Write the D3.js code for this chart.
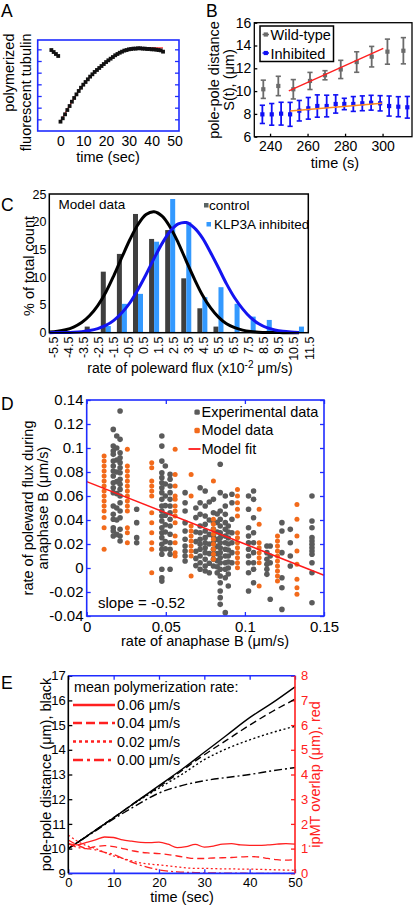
<!DOCTYPE html>
<html><head><meta charset="utf-8">
<script src="https://cdn.jsdelivr.net/npm/d3@7"></script>
<style>body{margin:0;background:#fff;}svg{display:block;}</style>
</head><body>
<script>
// ---------------- DATA ----------------
// Panel A
const aPreTime = [-4, -3, -2, -1];
const aPreVal = [6.94, 6.77, 6.60, 6.43];
const aTime = [0,1,2,3,4,5,6,7,8,9,10,11,12,13,14,15,16,17,18,19,20,21,22,23,24,25,26,27,28,29,30,31,32,33,34,35,36,37,38,39,40,41,42,43,44,45];
const aVal = [0.80,1.09,1.43,1.80,2.14,2.51,2.83,3.14,3.43,3.71,3.97,4.20,4.43,4.66,4.86,5.06,5.23,5.40,5.57,5.74,5.91,6.06,6.20,6.34,6.49,6.60,6.71,6.80,6.89,6.94,7.00,7.03,7.06,7.06,7.09,7.09,7.06,7.06,7.03,7.03,7.00,7.00,6.97,6.94,6.91,6.80];
const aFitTime = [0, 5, 10, 15, 20, 25, 30, 35, 40, 45];
const aFitVal = [0.82, 2.50, 3.97, 5.06, 5.91, 6.60, 7.00, 7.10, 7.12, 7.13];
const aXTicks = [0, 10, 20, 30, 40, 50];
const aYTicks = [1, 2, 3, 4, 5, 6, 7];

// Panel B
const bWildTime = [236.4, 244.4, 252.4, 261.3, 269.3, 277.7, 286.2, 294.2, 302.6, 311.1];
const bWildVal = [10.16, 10.45, 10.16, 10.89, 11.39, 11.90, 12.55, 13.02, 13.46, 13.54];
const bWildErr = [0.80, 0.85, 0.85, 0.75, 0.40, 0.80, 0.90, 0.90, 1.10, 1.15];
const bInhTime = [235.9, 240.9, 245.9, 250.7, 255.6, 260.4, 265.2, 270.2, 275.0, 279.6, 284.4, 289.2, 293.9, 298.7, 303.5, 308.4, 313.2];
const bInhVal = [7.96, 7.96, 8.02, 7.96, 8.28, 8.49, 8.69, 8.69, 8.87, 8.87, 8.87, 8.93, 8.98, 8.93, 8.69, 8.63, 8.58];
const bInhErr = [0.80, 0.95, 1.00, 1.05, 0.90, 0.95, 0.98, 0.95, 0.80, 0.50, 0.65, 0.65, 0.65, 0.67, 0.88, 0.88, 0.95];
const bWildFitTime = [250.0, 300.4];
const bWildFitVal = [10.02, 13.74];
const bInhFitTime = [250.7, 299.6];
const bInhFitVal = [8.25, 8.93];
const bXTicks = [240, 260, 280, 300];
const bYTicks = [6, 8, 10, 12, 14, 16];

// Panel C
const cBins = [-5,-4,-3,-2,-1,0,1,2,3,4,5,6,7,8,9,10];
const cControl = [0.3, 0, 1.1, 11.0, 14.2, 21.4, 16.9, 18.5, 9.8, 4.4, 1.1, 0, 0, 0, 0.3, 0];
const cInhibited = [0, 0, 0, 1.2, 5.2, 7.0, 16.4, 24.1, 19.9, 6.4, 8.2, 5.2, 2.9, 2.3, 0, 1.1];
const cControlCurveX = [-5.5,-5,-4.5,-4,-3.5,-3,-2.5,-2,-1.5,-1,-0.5,0,0.5,1,1.5,2,2.5,3,3.5,4,4.5,5,5.5,6,6.5,7,7.5,8,9,10];
const cControlCurveY = [0.12,0.26,0.53,1.02,1.83,3.1,4.9,7.3,10.3,13.6,16.8,19.5,21.3,21.8,21.0,19.0,16.2,12.9,9.7,6.8,4.5,2.8,1.6,0.9,0.46,0.22,0.1,0.04,0.01,0];
const cInhCurveX = [-5.5,-5,-4.5,-4,-3.5,-3,-2.5,-2,-1.5,-1,-0.5,0,0.5,1,1.5,2,2.5,3,3.5,4,4.5,5,5.5,6,6.5,7,7.5,8,8.5,9,9.5,10];
const cInhCurveY = [0.01,0.02,0.04,0.09,0.19,0.38,0.73,1.31,2.23,3.6,5.4,7.8,10.5,13.4,16.1,18.3,19.6,19.85,18.9,17.1,14.5,11.7,8.8,6.3,4.3,2.7,1.6,0.9,0.5,0.25,0.12,0.05];
const cTickLabels = ["-5.5","-4.5","-3.5","-2.5","-1.5","-0.5","0.5","1.5","2.5","3.5","4.5","5.5","6.5","7.5","8.5","9.5","10.5","11.5"];
const cYTicks = [0, 5, 10, 15, 20, 25];

// Panel D
const dExperimental = [
  {x: 0.0168, y: [0.1155,0.1016,0.0975,0.0947,0.0891,0.085,0.0808,0.0767,0.0711,0.0669,0.0628,0.0517,0.0447,0.0406,0.0336,0.0308,0.0267]},
  {x: 0.0190, y: [0.110,0.100,0.090,0.080,0.072,0.062,0.050,0.040,0.028]},
  {x: 0.0211, y: [0.1308,0.1072,0.0961,0.0919,0.0878,0.0836,0.0794,0.0739,0.0697,0.0655,0.06,0.0544,0.0475,0.0419,0.0322,0.0267,0.0225]},
  {x: 0.0316, y: [0.0489,0.0378,0.0253,0.0211]},
  {x: 0.0475, y: [0.11,0.1016,0.0891,0.0794,0.0753,0.0711,0.0669,0.0628,0.0572,0.0517,0.0475,0.0433,0.0392,0.0336,0.0294,0.0253,0.0197,0.0156,0.0114,-0.0011,-0.0081,-0.0109]},
  {x: 0.0497, y: [0.085,0.070,0.060,0.052,0.044,0.036,0.030,0.022,0.016]},
  {x: 0.0527, y: [0.078,0.0739,0.0683,0.0628,0.0572,0.0517,0.0461,0.0406,0.035,0.0281,0.0211,0.0156,0.0114,-0.0011]},
  {x: 0.0622, y: [0.0628,0.0544,0.0475,0.0378,0.0308,0.0239,0.0183,0.0142,0.01,0.0058]},
  {x: 0.0690, y: [0.050,0.042,0.030,0.022,0.014,0.008,0.002]},
  {x: 0.0717, y: [0.0669,0.0544,0.0447,0.035,0.0294,0.0239,0.0197,0.0156,0.01,0.0044,-0.0011]},
  {x: 0.0749, y: [0.0642,0.0517,0.0433,0.0364,0.0308,0.0253,0.0211,0.0169,0.0128,0.0072,0.0017,-0.0025]},
  {x: 0.0775, y: [0.055,0.040,0.028,0.020,0.012,0.004,-0.004]},
  {x: 0.0801, y: [0.0572,0.0461,0.0378,0.0322,0.0267,0.0211,0.0156,0.0114,0.0072,0.0017]},
  {x: 0.0825, y: [0.045,0.038,0.030,0.024,0.018,0.012,0.006,0.001,-0.004]},
  {x: 0.0844, y: [0.0864,0.0628,0.0475,0.0406,0.035,0.0294,0.0253,0.0211,0.0169,0.0128,0.0086,0.0044,-0.0011,-0.0067,-0.0123,-0.0192,-0.0247,-0.0303]},
  {x: 0.0876, y: [0.06,0.0517,0.0447,0.0378,0.0322,0.0267,0.0211,0.0156,0.01,0.0044,-0.0011,-0.0081,-0.0372]},
  {x: 0.0895, y: [0.035,0.030,0.025,0.020,0.015,0.010,0.005,0.000,-0.005,-0.015]},
  {x: 0.0918, y: [0.0614,0.0544,0.0406,0.0294,0.0211,0.0128,0.0044]},
  {x: 0.1023, y: [0.06,0.0489,0.0336,0.0267,0.0211,0.0156,0.01,0.0044,-0.0039,-0.0192]},
  {x: 0.1055, y: [0.0642,0.0572,0.0419,0.0294,0.0211,0.0128,0.0044,-0.0011,-0.0123]},
  {x: 0.1139, y: [0.0183,0.0128,0.0072,0.0031,-0.0011,-0.0053]},
  {x: 0.1160, y: [0.0183,0.01,0.0044,-0.0261]},
  {x: 0.1234, y: [0.0378,0.0308,0.0128,-0.0081,-0.0164,-0.0345]},
  {x: 0.1287, y: [0.0322,0.0211,0.01,0.0017]},
  {x: 0.1424, y: [0.06,0.0392,0.0336,0.0253,0.0225,0.0197,0.0169,0.0142,0.0114,0.0044,-0.0039,-0.0289]}
];
const dModel = [
  {x: 0.0110, y: [0.0933,0.0892,0.085,0.0808,0.0767,0.0725,0.0683,0.0642,0.06,0.0558,0.0517,0.0475,0.042,0.0336,0.0156]},
  {x: 0.0257, y: [0.0989,0.085,0.0808,0.0767,0.0725,0.0683,0.0642,0.06,0.0558,0.0517,0.0475,0.0336,0.0294,0.0211]},
  {x: 0.0411, y: [0.0878,0.0836,0.0725,0.0683,0.0642,0.06,0.0461,0.0378,0.0294,0.0211,0.0156,-0.004]},
  {x: 0.0559, y: [0.0989,0.078,0.0683,0.06,0.0572,0.0517,0.0475,0.0433,0.0378,0.0267,0.0211,0.0128,0.01]},
  {x: 0.0660, y: [0.078,0.06,0.035,0.0308,0.0267,0.0225,0.0183,0.0142,0.01,-0.0067]},
  {x: 0.0801, y: [0.0725,0.0406,0.0364,0.0322,0.0281,0.0239,0.0197,0.0156,0.0114,0.0072]},
  {x: 0.0953, y: [0.0655,0.06,0.0544,0.0489,0.0433,0.0294,0.0253,0.0211,0.0169,0.0128,0.0086,0.0044,0.0003]},
  {x: 0.1090, y: [0.0489,0.0364,0.0211,0.0169,0.0128,0.0086,0.0044,-0.015]},
  {x: 0.1206, y: [0.0267,0.0225,0.0183,0.0142,0.01,0.0058,0.0017,-0.0025,-0.0067,-0.0109]},
  {x: 0.1329, y: [0.053,0.0406,0.0267,0.0142,0.0031,-0.0094,-0.0164,-0.0219]}
];
const dFitX = [0, 0.15];
const dFitY = [0.072, -0.006];
const dXTicks = [0, 0.05, 0.1, 0.15];
const dYTicks = [-0.04, -0.02, 0, 0.02, 0.04, 0.06, 0.08, 0.1, 0.12, 0.14];

// Panel E
const eTime = [0, 5, 10, 15, 20, 25, 30, 35, 40, 45, 50];
const eBlack006 = [10, 10.62, 11.25, 11.90, 12.55, 13.20, 13.90, 14.60, 15.30, 15.90, 16.55];
const eBlack004 = [10, 10.62, 11.25, 11.90, 12.50, 13.15, 13.80, 14.40, 15.00, 15.55, 16.05];
const eBlack002 = [10, 10.62, 11.25, 11.88, 12.45, 13.00, 13.60, 14.05, 14.40, 14.70, 14.95];
const eBlack000 = [10, 10.60, 11.20, 11.75, 12.25, 12.55, 12.75, 12.88, 13.00, 13.15, 13.28];
const eRedTime = [0,2,4,6,8,10,12,14,16,18,20,22,24,26,28,30,32,34,36,38,40,42,44,46,48,50];
const eRed006 = [1.2,1.15,1.25,1.35,1.47,1.45,1.35,1.3,1.25,1.24,1.26,1.18,1.04,1.08,1.17,1.06,1.1,1.18,1.2,1.15,1.13,1.13,1.15,1.18,1.2,1.18];
const eRed004 = [1.35,1.15,1.02,1.08,1.12,1.08,1.0,0.92,0.85,0.82,0.8,0.76,0.7,0.64,0.6,0.6,0.62,0.63,0.64,0.66,0.68,0.66,0.6,0.55,0.53,0.55];
const eRed002 = [1.55,1.3,1.12,1.0,0.85,0.7,0.6,0.5,0.42,0.37,0.34,0.3,0.26,0.22,0.2,0.2,0.19,0.18,0.18,0.17,0.17,0.16,0.15,0.14,0.13,0.12];
const eRed000 = [1.2,1.05,1.0,0.95,0.85,0.76,0.6,0.45,0.32,0.22,0.14,0.09,0.06,0.04,0.03,0.02,0.02,0.01,0.01,0.01,0,0,0,0,0,0];
const eLegendLabels = ["0.06 \u03bcm/s", "0.04 \u03bcm/s", "0.02 \u03bcm/s", "0.00 \u03bcm/s"];
const eXTicks = [0, 10, 20, 30, 40, 50];
const eYLeftTicks = [9, 10, 11, 12, 13, 14, 15, 16, 17];
const eYRightTicks = [0, 1, 2, 3, 4, 5, 6, 7, 8];

// ---------------- DRAWING ----------------
const FONT = '"Liberation Sans", Arial, Helvetica, sans-serif';
const BLUE_FRAME = "#1f2cff";
const svg = d3.select("body").append("svg").attr("width", 414).attr("height", 905)
  .attr("font-family", FONT);
svg.append("rect").attr("width", 414).attr("height", 905).attr("fill", "#fff");

function text(x, y, s, o = {}) {
  return svg.append("text").attr("x", x).attr("y", y).text(s)
    .attr("font-size", o.fs || 14.5).attr("fill", o.fill || "#000")
    .attr("text-anchor", o.anchor || "start");
}
function vtext(x, y, s, o = {}) {
  return svg.append("text").attr("transform", `translate(${x},${y}) rotate(-90)`).text(s)
    .attr("font-size", o.fs || 14.5).attr("fill", o.fill || "#000")
    .attr("text-anchor", o.anchor || "middle");
}
function axis(gen, tx, ty, color, fs, tcolor) {
  const g = svg.append("g").attr("transform", `translate(${tx},${ty})`).call(gen);
  g.attr("font-family", FONT).attr("font-size", fs || 14);
  g.select(".domain").remove();
  g.selectAll(".tick line").attr("stroke", color || "#000").attr("stroke-width", 1.3);
  g.selectAll(".tick text").attr("fill", tcolor || "#000");
  return g;
}
function frame(x0, y0, x1, y1, color, w) {
  svg.append("rect").attr("x", x0).attr("y", y0).attr("width", x1 - x0).attr("height", y1 - y0)
    .attr("fill", "none").attr("stroke", color).attr("stroke-width", w || 1.5);
}

// Panel letters
text(1, 16.5, "A", {fs: 17.5});
text(206, 16.5, "B", {fs: 17.5});
text(1, 211, "C", {fs: 17.5});
text(1, 410, "D", {fs: 17.5});
text(1, 689, "E", {fs: 17.5});

// ===== Panel A =====
{
  const x = d3.scaleLinear().domain([-10, 52]).range([37.7, 179]);
  const y = d3.scaleLinear().domain([0, 7.8]).range([131, 40]);
  axis(d3.axisLeft(y).tickValues(aYTicks).tickSize(-4).tickFormat(""), 37.7, 0, BLUE_FRAME);
  axis(d3.axisRight(y).tickValues(aYTicks).tickSize(-4).tickFormat(""), 179, 0, BLUE_FRAME);
  axis(d3.axisBottom(x).tickValues(aXTicks).tickSize(0).tickPadding(5.5), 0, 131, BLUE_FRAME, 14);
  const line = d3.line().x((d, i) => x(aFitTime[i])).y(d => y(d)).curve(d3.curveCatmullRom);
  svg.append("path").attr("d", line(aFitVal)).attr("fill", "none").attr("stroke", "#ff3b3b").attr("stroke-width", 1.3);
  const pts = aTime.map((t, i) => [t, aVal[i]]).concat(aPreTime.map((t, i) => [t, aPreVal[i]]));
  svg.selectAll(".aPt").data(pts).enter().append("rect").attr("class", "aPt")
    .attr("x", d => x(d[0]) - 1.9).attr("y", d => y(d[1]) - 1.9).attr("width", 3.8).attr("height", 3.8)
    .attr("fill", "#111");
  frame(37.7, 40, 179, 131, BLUE_FRAME, 1.6);
  vtext(13.5, 33.5, "polymerized", {anchor: "end"});
  vtext(31, 33.5, "fluorescent tubulin", {anchor: "end"});
  text(108, 161.5, "time (sec)", {anchor: "middle"});
}

// ===== Panel B =====
{
  const x = d3.scaleLinear().domain([231.6, 315.7]).range([254.3, 412]);
  const y = d3.scaleLinear().domain([6, 16]).range([136.7, 22.7]);
  axis(d3.axisLeft(y).tickValues(bYTicks).tickSize(-3).tickPadding(3), 254.3, 0, "#000", 14);
  axis(d3.axisBottom(x).tickValues(bXTicks).tickSize(-3).tickPadding(4), 0, 136.7, "#000", 14);
  const lineFit = (tt) => d3.line().x((d, i) => x(tt[i])).y(d => y(d));
  function errSeries(ts, vs, es, color) {
    const data = ts.map((t, i) => ({t, v: vs[i], e: es[i]}));
    const g = svg.append("g");
    g.selectAll("line.v").data(data).enter().append("line")
      .attr("x1", d => x(d.t)).attr("x2", d => x(d.t)).attr("y1", d => y(d.v - d.e)).attr("y2", d => y(d.v + d.e))
      .attr("stroke", color).attr("stroke-width", 1.8);
    g.selectAll("line.t").data(data).enter().append("line")
      .attr("x1", d => x(d.t) - 2.6).attr("x2", d => x(d.t) + 2.6).attr("y1", d => y(d.v + d.e)).attr("y2", d => y(d.v + d.e))
      .attr("stroke", color).attr("stroke-width", 1.6);
    g.selectAll("line.b").data(data).enter().append("line")
      .attr("x1", d => x(d.t) - 2.6).attr("x2", d => x(d.t) + 2.6).attr("y1", d => y(d.v - d.e)).attr("y2", d => y(d.v - d.e))
      .attr("stroke", color).attr("stroke-width", 1.6);
    g.selectAll("rect").data(data).enter().append("rect")
      .attr("x", d => x(d.t) - 2.1).attr("y", d => y(d.v) - 2.1).attr("width", 4.2).attr("height", 4.2).attr("fill", color);
  }
  errSeries(bWildTime, bWildVal, bWildErr, "#6b6b6b");
  errSeries(bInhTime, bInhVal, bInhErr, "#1010f5");
  svg.append("path").attr("d", lineFit(bWildFitTime)(bWildFitVal)).attr("stroke", "#ff2020").attr("stroke-width", 1.4).attr("fill", "none");
  svg.append("path").attr("d", lineFit(bInhFitTime)(bInhFitVal)).attr("stroke", "#ff8a1c").attr("stroke-width", 1.4).attr("fill", "none");
  frame(254.3, 22.7, 412, 136.7, "#000", 1.3);
  svg.append("rect").attr("x", 260).attr("y", 26).attr("width", 73.5).attr("height", 35.5)
    .attr("fill", "#fff").attr("stroke", "#000").attr("stroke-width", 1.5);
  [["Wild-type", "#6b6b6b", 34.5, 39.5], ["Inhibited", "#1010f5", 53, 58.5]].forEach(([s, c, my, ty]) => {
    svg.append("line").attr("x1", 262.5).attr("x2", 269).attr("y1", my).attr("y2", my).attr("stroke", c).attr("stroke-width", 1.5);
    svg.append("rect").attr("x", 263.7).attr("y", my - 2.1).attr("width", 4.2).attr("height", 4.2).attr("fill", c);
    text(270.5, ty, s, {fs: 14.5});
  });
  vtext(218.5, 80, "pole-pole distance");
  vtext(233.5, 80, "S(t), (\u03bcm)");
  text(335, 167.5, "time (s)", {anchor: "middle"});
}

// ===== Panel C =====
{
  const x = d3.scaleLinear().domain([-5.51, 10.58]).range([49.3, 308.3]);
  const y = d3.scaleLinear().domain([0, 25]).range([332.7, 194]);
  const xl = d3.scalePoint().domain(cTickLabels).range([53.3, 309]);
  axis(d3.axisLeft(y).tickValues(cYTicks).tickSize(0).tickPadding(2.8), 49.3, 0, "#000", 12.5);
  const bw = 5;
  svg.selectAll(".cCtl").data(cBins.map((b, i) => [b, cControl[i]])).enter().append("rect")
    .attr("x", d => x(d[0]) - bw).attr("y", d => y(d[1])).attr("width", bw).attr("height", d => y(0) - y(d[1]))
    .attr("fill", "#3f3f3f");
  svg.selectAll(".cInh").data(cBins.map((b, i) => [b, cInhibited[i]])).enter().append("rect")
    .attr("x", d => x(d[0])).attr("y", d => y(d[1])).attr("width", bw).attr("height", d => y(0) - y(d[1]))
    .attr("fill", "#3399ff");
  const line = d3.line().curve(d3.curveCatmullRom);
  svg.append("path").attr("d", line(cControlCurveX.map((v, i) => [x(v), y(cControlCurveY[i])])))
    .attr("fill", "none").attr("stroke", "#000").attr("stroke-width", 3);
  svg.append("path").attr("d", line(cInhCurveX.map((v, i) => [x(v), y(cInhCurveY[i])])))
    .attr("fill", "none").attr("stroke", "#1414f0").attr("stroke-width", 3);
  frame(49.3, 194, 308.3, 332.7, "#000", 1.5);
  cTickLabels.forEach(l => {
    vtext(xl(l) + 4.5, 336.5, l, {anchor: "end", fs: 12.5});
  });
  text(58.5, 209, "Model data", {fs: 13.5});
  svg.append("rect").attr("x", 204).attr("y", 203).attr("width", 4.5).attr("height", 4.5).attr("fill", "#5a6464");
  text(209, 209.5, "control", {fs: 13.5});
  svg.append("rect").attr("x", 206.5).attr("y", 222).attr("width", 4.5).attr("height", 4.5).attr("fill", "#3399ff");
  text(214, 229, "KLP3A inhibited", {fs: 13.5});
  vtext(33.5, 266, "% of total count");
  const xt = text(190, 373, "rate of poleward flux (x10", {anchor: "middle", fs: 14});
  xt.append("tspan").attr("dy", -5).attr("font-size", 10).text("-2");
  xt.append("tspan").attr("dy", 5).text(" \u03bcm/s)");
}

// ===== Panel D =====
{
  const x = d3.scaleLinear().domain([0, 0.15]).range([86.7, 324]);
  const y = d3.scaleLinear().domain([-0.04, 0.14]).range([616, 400]);
  const fmt = d => (d === 0 ? "0" : String(+d.toFixed(2)));
  axis(d3.axisLeft(y).tickValues(dYTicks).tickSize(-4).tickPadding(3.2).tickFormat(fmt), 86.7, 0, BLUE_FRAME, 15);
  axis(d3.axisRight(y).tickValues(dYTicks).tickSize(-4).tickFormat(""), 324, 0, BLUE_FRAME);
  axis(d3.axisBottom(x).tickValues(dXTicks).tickSize(-4).tickPadding(5.2).tickFormat(fmt), 0, 616, BLUE_FRAME, 15);
  axis(d3.axisTop(x).tickValues(dXTicks).tickSize(-4).tickFormat(""), 0, 400, BLUE_FRAME);
  const exp = dExperimental.flatMap(c => c.y.map(v => [c.x, v]));
  const mod = dModel.flatMap(c => c.y.map(v => [c.x, v]));
  svg.selectAll(".dExp").data(exp).enter().append("circle")
    .attr("cx", d => x(d[0])).attr("cy", d => y(d[1])).attr("r", 2.8).attr("fill", "#5b5b5b");
  svg.selectAll(".dMod").data(mod).enter().append("circle")
    .attr("cx", d => x(d[0])).attr("cy", d => y(d[1])).attr("r", 2.5).attr("fill", "#f26a1b");
  svg.append("line").attr("x1", x(dFitX[0])).attr("y1", y(dFitY[0])).attr("x2", x(dFitX[1])).attr("y2", y(dFitY[1]))
    .attr("stroke", "#ff1a1a").attr("stroke-width", 1.5);
  frame(86.7, 400, 324, 616, BLUE_FRAME, 1.6);
  svg.append("rect").attr("x", 194.4).attr("y", 409.4).attr("width", 5.4).attr("height", 5.4).attr("rx", 1.5).attr("fill", "#5b5b5b");
  text(201.5, 416.5, "Experimental data", {fs: 14.5});
  svg.append("rect").attr("x", 194.4).attr("y", 427.8).attr("width", 5.4).attr("height", 5.4).attr("rx", 1.5).attr("fill", "#f26a1b");
  text(201.5, 435, "Model data", {fs: 14.5});
  svg.append("line").attr("x1", 188.5).attr("x2", 200.5).attr("y1", 449).attr("y2", 449).attr("stroke", "#ff1a1a").attr("stroke-width", 1.8);
  text(201.5, 453.5, "Model fit", {fs: 14.5});
  text(98, 608, "slope = -0.52", {fs: 15});
  vtext(32.5, 508, "rate of  poleward flux during");
  vtext(47.5, 508, "anaphase B (\u03bcm/s)");
  text(205, 646, "rate of anaphase B (\u03bcm/s)", {anchor: "middle"});
}

// ===== Panel E =====
{
  const x = d3.scaleLinear().domain([0, 50]).range([68.3, 295]);
  const yl = d3.scaleLinear().domain([9, 17]).range([873.3, 675.7]);
  const yr = d3.scaleLinear().domain([0, 8]).range([873.3, 675.7]);
  axis(d3.axisLeft(yl).tickValues(eYLeftTicks).tickSize(-4).tickPadding(2.5), 68.3, 0, "#000", 13);
  axis(d3.axisRight(yr).tickValues(eYRightTicks).tickSize(-4).tickPadding(6), 295, 0, "#ff2020", 13, "#ff2020");
  axis(d3.axisBottom(x).tickValues(eXTicks).tickSize(-4).tickPadding(4), 0, 873.3, BLUE_FRAME, 13);
  axis(d3.axisTop(x).tickValues(eXTicks).tickSize(-4).tickFormat(""), 0, 675.7, BLUE_FRAME);
  const dashes = [null, "7,4", "2,2.5", "8,3,2,3"];
  const lineL = d3.line().x((d, i) => x(eTime[i])).y(d => yl(d)).curve(d3.curveMonotoneX);
  const lineR = d3.line().x((d, i) => x(eRedTime[i])).y(d => yr(d)).curve(d3.curveMonotoneX);
  [eBlack006, eBlack004, eBlack002, eBlack000].forEach((s, i) => {
    svg.append("path").attr("d", lineL(s)).attr("fill", "none").attr("stroke", "#000").attr("stroke-width", 1.4)
      .attr("stroke-dasharray", dashes[i]);
  });
  [eRed006, eRed004, eRed002, eRed000].forEach((s, i) => {
    svg.append("path").attr("d", lineR(s)).attr("fill", "none").attr("stroke", "#ff2020").attr("stroke-width", 1.3)
      .attr("stroke-dasharray", dashes[i]);
  });
  svg.append("line").attr("x1", 68.3).attr("x2", 295).attr("y1", 675.7).attr("y2", 675.7).attr("stroke", BLUE_FRAME).attr("stroke-width", 1.6);
  svg.append("line").attr("x1", 68.3).attr("x2", 295).attr("y1", 873.3).attr("y2", 873.3).attr("stroke", BLUE_FRAME).attr("stroke-width", 1.8);
  svg.append("line").attr("x1", 68.3).attr("x2", 68.3).attr("y1", 675.7).attr("y2", 873.3).attr("stroke", "#000").attr("stroke-width", 1.6);
  svg.append("line").attr("x1", 295).attr("x2", 295).attr("y1", 675.7).attr("y2", 873.3).attr("stroke", "#ff2020").attr("stroke-width", 1.6);
  text(74, 692, "mean polymerization rate:", {fs: 14.3});
  const ly = [705, 723, 741.5, 760];
  const legDash = [null, "9,4", "3,3", "10,4,3,4"];
  eLegendLabels.forEach((s, i) => {
    svg.append("line").attr("x1", 73).attr("x2", 115).attr("y1", ly[i]).attr("y2", ly[i])
      .attr("stroke", "#ff2020").attr("stroke-width", 2.4).attr("stroke-dasharray", legDash[i]);
    text(117, ly[i] + 5, s, {fs: 14.3});
  });
  vtext(50.5, 774.5, "pole-pole distance (\u03bcm), black");
  vtext(319.5, 774.5, "ipMT overlap (\u03bcm), red", {fill: "#ff2020"});
  text(182, 902, "time (sec)", {anchor: "middle"});
}
</script>
</body></html>
